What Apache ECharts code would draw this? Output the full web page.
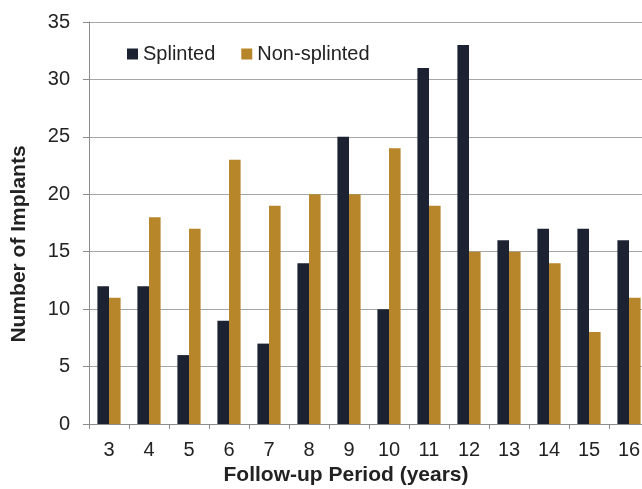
<!DOCTYPE html>
<html>
<head>
<meta charset="utf-8">
<script src="https://cdn.jsdelivr.net/npm/echarts@6/dist/echarts.min.js"></script>
<style>
html,body{margin:0;padding:0;background:#fff;}
#chart{width:642px;height:489px;}
</style>
</head>
<body>
<div id="chart"></div>
<script>
var categories = ['3','4','5','6','7','8','9','10','11','12','13','14','15','16'];
var splinted = [12,12,6,9,7,14,25,10,31,33,16,17,17,16];
var nonSplinted = [11,18,17,23,19,20,20,24,19,15,15,14,8,11];
var yTicks = [0,5,10,15,20,25,30,35];

var chart = echarts.init(document.getElementById('chart'));
var font = 'Liberation Sans, Arial, sans-serif';
chart.setOption({
  animation: false,
  backgroundColor: '#ffffff',
  legend: {
    left: 122, top: 39,
    itemWidth: 11, itemHeight: 11, itemGap: 26,
    icon: 'rect',
    textStyle: {fontFamily: font, fontSize: 20, color: '#222'},
    data: ['Splinted','Non-splinted']
  },
  grid: {left: 89, top: 22, right: -7, bottom: 65, containLabel: false, outerBoundsMode: 'none'},
  xAxis: {
    type: 'category',
    data: categories,
    name: 'Follow-up Period (years)',
    nameLocation: 'middle',
    nameGap: 37,
    nameTextStyle: {fontFamily: font, fontSize: 21, fontWeight: 'bold', color: '#222', padding: [0, 46, 0, 0]},
    axisLine: {lineStyle: {color: '#8c8c8c', width: 1}},
    axisTick: {show: true, length: 5, lineStyle: {color: '#8c8c8c'}},
    axisLabel: {fontFamily: font, fontSize: 20, color: '#222', margin: 16}
  },
  yAxis: {
    type: 'value',
    min: yTicks[0], max: yTicks[yTicks.length-1], interval: 5,
    name: 'Number of Implants',
    nameLocation: 'middle',
    nameGap: 59,
    nameTextStyle: {fontFamily: font, fontSize: 21, fontWeight: 'bold', color: '#222', padding: [0, 42, 0, 0]},
    axisLine: {show: true, lineStyle: {color: '#8c8c8c', width: 1}},
    axisTick: {show: true, length: 6, lineStyle: {color: '#8c8c8c'}},
    axisLabel: {fontFamily: font, fontSize: 20, color: '#222', margin: 19},
    splitLine: {lineStyle: {color: '#a6a6a6', width: 1}}
  },
  series: [
    {name: 'Splinted', type: 'bar', data: splinted, barGap: '0%', barCategoryGap: '42%',
     itemStyle: {color: '#1c2231'}},
    {name: 'Non-splinted', type: 'bar', data: nonSplinted, barGap: '0%', barCategoryGap: '42%',
     itemStyle: {color: '#b8862a'}}
  ]
});
</script>
</body>
</html>
